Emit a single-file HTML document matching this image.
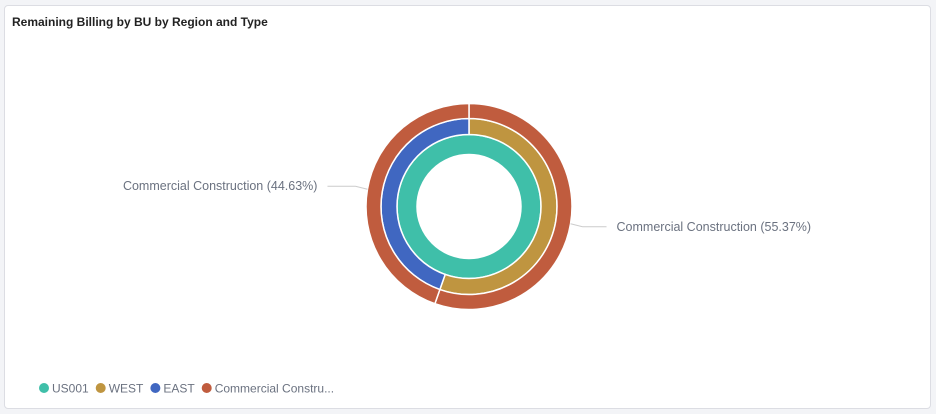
<!DOCTYPE html>
<html><head><meta charset="utf-8"><style>
body{margin:0;width:936px;height:414px;background:#f3f4f7;font-family:"Liberation Sans",sans-serif;overflow:hidden}
.card{position:absolute;left:4px;top:5px;width:927px;height:404px;background:#fff;border:1px solid #dcdde3;border-radius:4px;box-sizing:border-box}
.title{position:absolute;left:7px;top:9px;font-size:12px;font-weight:bold;color:#222}
svg{position:absolute;left:0;top:0}
</style></head><body>
<div class="card">
<div class="title">Remaining Billing by BU by Region and Type</div>
</div>
<svg id="c" width="936" height="414"></svg>
<script>
const innerLabels=["US001"];const innerValues=[100];
const midLabels=["WEST","EAST"];const midValues=[55.37,44.63];
const outerLabels=["Commercial Construction","Commercial Construction"];const outerValues=[55.37,44.63];
const legendLabels=["US001","WEST","EAST","Commercial Constru..."];
const legendColors=["#3fbfa9","#bf9540","#4067c1","#c05c3e"];
const svg=document.getElementById('c');const NS='http://www.w3.org/2000/svg';
const cx=469,cy=206.5;
function mk(t,a){const e=document.createElementNS(NS,t);for(const k in a)e.setAttribute(k,a[k]);svg.appendChild(e);return e;}
function pt(r,a){return [cx+r*Math.sin(a),cy-r*Math.cos(a)];}
function arc(r0,r1,a0,a1){
 if(a1-a0>=Math.PI*2-1e-6){return `M${cx-r1},${cy}A${r1},${r1} 0 1 1 ${cx+r1},${cy}A${r1},${r1} 0 1 1 ${cx-r1},${cy}M${cx-r0},${cy}A${r0},${r0} 0 1 0 ${cx+r0},${cy}A${r0},${r0} 0 1 0 ${cx-r0},${cy}Z`;}
 const l=a1-a0>Math.PI?1:0;const p1=pt(r1,a0),p2=pt(r1,a1),p3=pt(r0,a1),p4=pt(r0,a0);
 return `M${p1}A${r1},${r1} 0 ${l} 1 ${p2}L${p3}A${r0},${r0} 0 ${l} 0 ${p4}Z`;}
function ring(vals,labels,colors,r0,r1,name){
 const tot=vals.reduce((a,b)=>a+b,0);let a=0;const out=[];
 vals.forEach((v,i)=>{const a1=a+v/tot*Math.PI*2;
  const p=mk('path',{d:arc(r0,r1,a,a1),fill:colors[i],stroke:'#fff','stroke-width':1.5,'fill-rule':'evenodd'});
  
  
  out.push([a,a1]);a=a1;});return out;}
ring(innerValues,innerLabels,["#3fbfa9"],52,72,'inner-slice');
ring(midValues,midLabels,["#bf9540","#4067c1"],72,88,'mid-slice');
const oa=ring(outerValues,outerLabels,["#c05c3e","#c05c3e"],88,103,'outer-slice');
oa.forEach((s,i)=>{const m=(s[0]+s[1])/2;const p=pt(103,m);const right=Math.sin(m)>0;
 const p2=[p[0]+(right?12:-12),p[1]+(right?3:-3)];const p3=[p2[0]+(right?24:-28),p2[1]];
 const l=mk('polyline',{points:`${p} ${p2} ${p3}`,fill:'none',stroke:'#ccc','stroke-width':1});
 
 const t=mk('text',{x:p3[0]+(right?10:-10),y:p3[1]+4,'font-size':12.5,fill:'#6b7280','text-anchor':right?'start':'end','font-family':'Liberation Sans, sans-serif'});
 t.textContent=outerLabels[i]+' ('+outerValues[i].toFixed(2)+'%)';
 });
let lx=39;legendLabels.forEach((s,i)=>{
 const g=document.createElementNS(NS,'g');svg.appendChild(g);
 
 
 const c=document.createElementNS(NS,'circle');c.setAttribute('cx',lx+5);c.setAttribute('cy',388);c.setAttribute('r',5);c.setAttribute('fill',legendColors[i]);g.appendChild(c);
 const t=document.createElementNS(NS,'text');t.setAttribute('x',lx+13);t.setAttribute('y',392.5);t.setAttribute('font-size',12);t.setAttribute('fill','#6b7280');t.setAttribute('font-family','Liberation Sans, sans-serif');t.textContent=s;g.appendChild(t);
 lx+=13+t.getComputedTextLength()+7;});
</script>
</body></html>
